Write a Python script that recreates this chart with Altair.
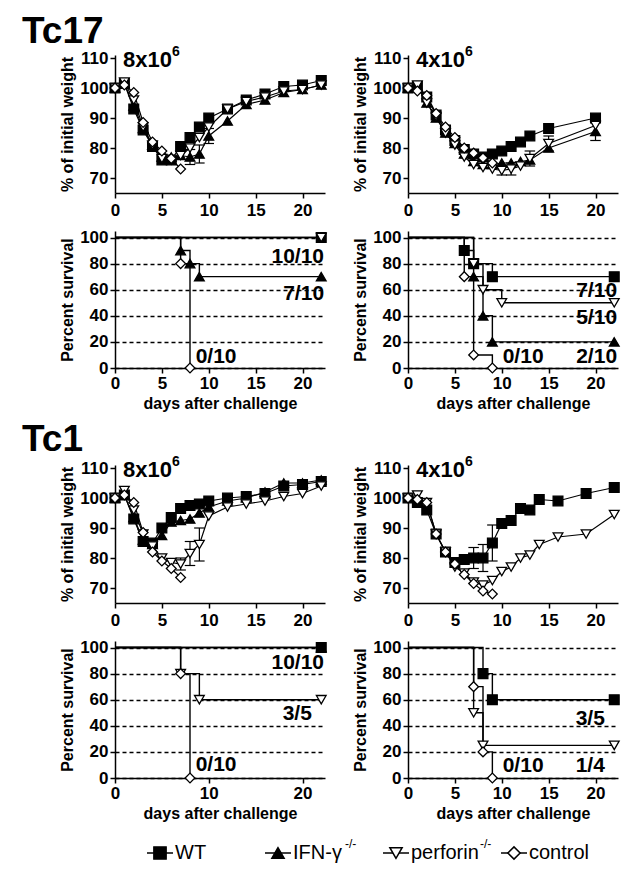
import altair as alt
import pandas as pd

FONT = "Liberation Sans, Arial, sans-serif"
AX_FONT = "Liberation Sans Narrow, Liberation Sans, Arial, sans-serif"

GROUPS = ["WT", "IFN", "perforin", "control"]
SHAPES = ["square", "triangle-up", "triangle-down", "diamond"]
FILLS = ["black", "black", "white", "white"]
LEGEND_LABELS = ["WT", "IFN-γ", "perforin", "control"]
LEGEND_SUPS = ["", "-/-", "-/-", ""]

# ---------------- Tc17, 8x10^6 : weight ----------------
A_days = [0, 1, 2, 3, 4, 5, 6, 7, 8, 9, 10, 12, 14, 16, 18, 20, 22]
A_wt = [100, 101.5, 93, 86, 80.5, 76, 76, 80.5, 83.5, 87, 90, 93, 96, 98, 100.5, 101, 102.5]
A_ifn = [100, 101.5, 94, 86.5, 81, 77, 77, 77.5, 77, 78, 84, 89, 94.5, 96, 98.5, 99.5, 101]
A_perf = [100, 102, 96, 87, 81, 76.5, 76, 77.5, 80, 83.5, 87, 93, 95.5, 97, 99, 99.5, 101]
A_ctrl_days = [0, 1, 2, 3, 4, 5, 6, 7]
A_ctrl = [100, 101, 98.5, 88.5, 82, 79, 76.5, 73]
A_err_group = ["IFN", "IFN", "IFN"]
A_err_day = [8, 9, 10]
A_err_sem = [2.5, 3, 2.5]

# ---------------- Tc17, 4x10^6 : weight ----------------
B_days = [0, 1, 2, 3, 4, 5, 6, 7, 8, 9, 10, 11, 12, 13, 15, 20]
B_wt = [100, 100.5, 97, 91, 86, 82.5, 79.5, 78, 77, 78, 79, 80.5, 82, 84, 86.5, 90]
B_ifn = [100, 100.5, 95, 90, 85, 81.5, 78, 75.5, 74.5, 74.5, 75, 75, 75.5, 76, 80, 85.5]
B_perf = [100, 101, 95, 90.5, 85, 81, 77, 74.5, 73.5, 73, 72.5, 73, 74, 76.5, 81.5, 87.5]
B_ctrl_days = [0, 1, 2, 3, 4, 5, 6, 7, 8, 9]
B_ctrl = [100, 99, 97.5, 91.5, 87, 83.5, 80, 78.3, 76.7, 75]
B_err_group = ["perforin", "perforin", "perforin", "perforin", "IFN"]
B_err_day = [10, 11, 13, 15, 20]
B_err_sem = [1.5, 2, 2.5, 2.5, 3]

# ---------------- Tc1, 8x10^6 : weight ----------------
C_days = [0, 1, 2, 3, 4, 5, 6, 7, 8, 9, 10, 12, 14, 16, 18, 20, 22]
C_wt = [100, 101, 93, 85.5, 85, 90, 93.5, 96.5, 97.5, 98, 99, 100, 100.5, 101.5, 104, 104.5, 105.5]
C_ifn = [100, 101, 93.5, 86, 84.5, 87.5, 92, 92.5, 93, 95, 97, 99, 100, 102, 105, 105, 106]
C_perf = [100, 102.5, 96, 88, 84, 80, 78.5, 78, 81.5, 84.5, 94, 97, 98, 99, 100.5, 101.5, 104]
C_ctrl_days = [0, 1, 2, 3, 4, 5, 6, 7]
C_ctrl = [100, 101, 98.5, 88.5, 82, 79, 76.5, 73.5]
C_err_group = ["perforin", "perforin", "perforin"]
C_err_day = [7, 8, 9]
C_err_sem = [2, 4, 5.5]

# ---------------- Tc1, 4x10^6 : weight ----------------
D_days = [0, 1, 2, 3, 4, 5, 6, 7, 8, 9, 10, 11, 12, 13, 14, 16, 19, 22]
D_wt = [100, 98.5, 96, 88, 82, 78.5, 79.5, 80, 80, 85, 91.5, 92.5, 96.5, 96, 99.5, 99, 101.5, 103.5]
D_perf = [100, 101, 98.5, 88, 82, 77, 75, 72, 71, 72.5, 75.5, 77, 80, 81, 84.5, 87, 88, 94.5]
D_ctrl_days = [0, 1, 2, 3, 4, 5, 6, 7, 8, 9]
D_ctrl = [100, 99.5, 98.5, 88, 82, 78, 74.5, 71.5, 69, 68]
D_err_group = ["WT", "WT", "WT"]
D_err_day = [7, 8, 9]
D_err_sem = [3.5, 4.5, 6]

# ---------------- survival (Kaplan-Meier steps) ----------------
SA = {"WT": ([0, 22], [100, 100]),
      "IFN": ([0, 7, 8, 9, 22], [100, 90, 80, 70, 70]),
      "perforin": ([0, 22], [100, 100]),
      "control": ([0, 7, 8], [100, 80, 0])}
SA_txt = ["10/10", "7/10", "0/10"]
SA_day = [22.3, 22.3, 8.6]
SA_pct = [85, 57, 8.5]
SA_align = ["right", "right", "left"]

SB = {"WT": ([0, 6, 7, 9, 22], [100, 90, 80, 70, 70]),
      "IFN": ([0, 7, 8, 9, 22], [100, 70, 40, 20, 20]),
      "perforin": ([0, 7, 8, 10, 22], [100, 80, 60, 50, 50]),
      "control": ([0, 6, 7, 9], [100, 70, 10, 0])}
SB_txt = ["7/10", "5/10", "2/10", "0/10"]
SB_day = [22.3, 22.3, 22.3, 10.1]
SB_pct = [59, 38.5, 8.5, 8.5]
SB_align = ["right", "right", "right", "left"]

SC = {"WT": ([0, 22], [100, 100]),
      "IFN": ([0, 22], [100, 100]),
      "perforin": ([0, 7, 9, 22], [100, 80, 60, 60]),
      "control": ([0, 7, 8], [100, 80, 0])}
SC_txt = ["10/10", "3/5", "0/10"]
SC_day = [22.3, 21.0, 8.6]
SC_pct = [88, 49, 10]
SC_align = ["right", "right", "left"]

SD = {"WT": ([0, 8, 9, 22], [100, 80, 60, 60]),
      "perforin": ([0, 7, 8, 22], [100, 50, 25, 25]),
      "control": ([0, 7, 8, 9], [100, 70, 20, 0])}
SD_txt = ["3/5", "1/4", "0/10"]
SD_day = [21.0, 21.0, 10.1]
SD_pct = [45, 9, 9]
SD_align = ["right", "right", "left"]

W = 210
H_W = 138
H_S = 137
X_DOMAIN = [0, 22.4]

shape_enc = alt.Shape("group:N", scale=alt.Scale(domain=GROUPS, range=SHAPES), legend=None)
fill_enc = alt.Fill("group:N", scale=alt.Scale(domain=GROUPS, range=FILLS), legend=None)


def long_df(series, vname):
    rows = []
    for g in GROUPS:
        if g in series:
            days, vals = series[g]
            for d, v in zip(days, vals):
                rows.append({"group": g, "day": d, vname: v})
    return pd.DataFrame(rows)


def xenc(field, ticks, title=None, pad=2):
    return alt.X(f"{field}:Q", title=title,
                 scale=alt.Scale(domain=X_DOMAIN, nice=False, zero=False),
                 axis=alt.Axis(values=ticks, grid=False, labelPadding=pad))


def text_layer(txt, x, y, size, weight="bold", align="left"):
    return alt.Chart(pd.DataFrame({"t": [txt]})).mark_text(
        align=align, baseline="alphabetic", font=FONT, fontSize=size,
        fontWeight=weight, color="black").encode(x=alt.value(x), y=alt.value(y), text="t:N")


def dose_title(base, sup):
    return [text_layer(base, 8, 12, 22), text_layer(sup, 57, 1, 14)]


def weight_panel(series, err, base, sup, big=None, big_y=-12):
    df = long_df(series, "value")
    title = "% of initial weight"

    def yenc(field):
        return alt.Y(f"{field}:Q", title=title,
                     scale=alt.Scale(domain=[65, 111], nice=False, zero=False),
                     axis=alt.Axis(values=[70, 80, 90, 100, 110], grid=False))

    ticks = [0, 5, 10, 15, 20]
    xw = lambda f: xenc(f, ticks, None, 4)
    line = alt.Chart(df).mark_line(color="black", strokeWidth=1.2).encode(
        x=xw("day"), y=yenc("value"), detail="group:N")
    edf = pd.DataFrame({"group": err[0], "day": err[1], "sem": err[2]})
    edf = edf.merge(df, on=["group", "day"], how="left")
    edf["lo"] = edf["value"] - edf["sem"]
    edf["hi"] = edf["value"] + edf["sem"]
    rule = alt.Chart(edf).mark_rule(color="black", strokeWidth=1.2).encode(
        x=xw("day"), y=yenc("lo"), y2="hi:Q")
    caps = alt.Chart(edf).transform_fold(["lo", "hi"], as_=["k", "v"]).mark_point(
        shape="M-1,0H1", size=110, color="black", strokeWidth=1.2, filled=False, opacity=1).encode(
        x=xw("day"), y=yenc("v"))
    pts = alt.Chart(df).mark_point(filled=True, size=95, stroke="black", strokeWidth=1.3,
                                   opacity=1).encode(
        x=xw("day"), y=yenc("value"), shape=shape_enc, fill=fill_enc)
    layers = [line, rule, caps, pts] + dose_title(base, sup)
    if big:
        layers.append(text_layer(big, -93, big_y, 37))
    return alt.layer(*layers).properties(width=W, height=H_W)


def survival_panel(series, txt, tday, tpct, talign, ticks):
    df = long_df(series, "pct")
    title = "Percent survival"

    def yenc(field):
        return alt.Y(f"{field}:Q", title=title,
                     scale=alt.Scale(domain=[0, 105], nice=False, zero=False),
                     axis=alt.Axis(values=[0, 20, 40, 60, 80, 100], grid=True,
                                   gridDash=[4, 3], gridColor="black", gridWidth=1.3))

    xt = "days after challenge"
    steps = alt.Chart(df).mark_line(color="black", strokeWidth=1.4, interpolate="step-after").encode(
        x=xenc("day", ticks, xt), y=yenc("pct"), detail="group:N")
    pts = alt.Chart(df).transform_filter("datum.day > 0").mark_point(
        filled=True, size=95, stroke="black", strokeWidth=1.3, opacity=1).encode(
        x=xenc("day", ticks, xt), y=yenc("pct"), shape=shape_enc, fill=fill_enc)
    adf = pd.DataFrame({"t": txt, "day": tday, "pct": tpct, "align": talign})
    layers = [steps, pts]
    for al in ["right", "left"]:
        layers.append(alt.Chart(adf).transform_filter(f"datum.align == '{al}'").mark_text(
            align=al, baseline="middle", font=FONT, fontSize=21, fontWeight="bold",
            color="black").encode(x=xenc("day", ticks, xt), y=yenc("pct"), text="t:N"))
    return alt.layer(*layers).properties(width=W, height=H_S)


w1 = weight_panel({"WT": (A_days, A_wt), "IFN": (A_days, A_ifn), "perforin": (A_days, A_perf),
                   "control": (A_ctrl_days, A_ctrl)},
                  (A_err_group, A_err_day, A_err_sem), "8x10", "6", big="Tc17", big_y=-12)
w2 = weight_panel({"WT": (B_days, B_wt), "IFN": (B_days, B_ifn), "perforin": (B_days, B_perf),
                   "control": (B_ctrl_days, B_ctrl)},
                  (B_err_group, B_err_day, B_err_sem), "4x10", "6")
w3 = weight_panel({"WT": (C_days, C_wt), "IFN": (C_days, C_ifn), "perforin": (C_days, C_perf),
                   "control": (C_ctrl_days, C_ctrl)},
                  (C_err_group, C_err_day, C_err_sem), "8x10", "6", big="Tc1", big_y=-14)
w4 = weight_panel({"WT": (D_days, D_wt), "perforin": (D_days, D_perf),
                   "control": (D_ctrl_days, D_ctrl)},
                  (D_err_group, D_err_day, D_err_sem), "4x10", "6")

s1 = survival_panel(SA, SA_txt, SA_day, SA_pct, SA_align, [0, 5, 10, 15, 20])
s2 = survival_panel(SB, SB_txt, SB_day, SB_pct, SB_align, [0, 5, 10, 15, 20])
s3 = survival_panel(SC, SC_txt, SC_day, SC_pct, SC_align, [0, 10, 20])
s4 = survival_panel(SD, SD_txt, SD_day, SD_pct, SD_align, [0, 5, 10, 15, 20])

grid = alt.concat(w1, w2, s1, s2, w3, w4, s3, s4, columns=2, align="each",
                  spacing={"row": 10, "column": 23})

# ---------------- legend ----------------
ldf = pd.DataFrame({"group": GROUPS, "label": LEGEND_LABELS, "sup": LEGEND_SUPS})
lx = alt.X("group:N", sort=GROUPS, axis=None,
           scale=alt.Scale(domain=GROUPS, range=[45, 399], padding=0))
lbase = alt.Chart(ldf).encode(x=lx, y=alt.value(15))
l_line = lbase.mark_point(shape="M-1,0H1", size=676, color="black", strokeWidth=1.5,
                          filled=False, opacity=1)
l_pts = lbase.mark_point(filled=True, size=150, stroke="black", strokeWidth=1.5,
                         opacity=1).encode(shape=shape_enc, fill=fill_enc)
l_txt = lbase.mark_text(align="left", baseline="middle", dx=15, font=FONT, fontSize=20,
                        color="black").encode(text="label:N")
l_sup1 = lbase.transform_filter("datum.group == 'IFN'").mark_text(
    align="left", baseline="middle", dx=67, dy=-9, font=FONT, fontSize=12,
    color="black").encode(text="sup:N")
l_sup2 = lbase.transform_filter("datum.group == 'perforin'").mark_text(
    align="left", baseline="middle", dx=84, dy=-9, font=FONT, fontSize=12,
    color="black").encode(text="sup:N")
legend = alt.layer(l_line, l_pts, l_txt, l_sup1, l_sup2).properties(width=480, height=30)

chart = alt.vconcat(grid, legend, spacing=17).properties(
    padding={"left": 14, "top": 5, "right": 5, "bottom": 5}
).configure_view(stroke=None).configure_axis(
    labelFont=AX_FONT, labelFontSize=17, labelFontWeight="bold", labelColor="black",
    titleFont=AX_FONT, titleFontSize=16, titleFontWeight="bold", titleColor="black",
    domainColor="black", domainWidth=1.5, tickColor="black", tickWidth=1.5, tickSize=5,
    labelPadding=2, titlePadding=4, labelFlush=False, labelOverlap=False
)

chart.save("out.html", embed_options={"renderer": "svg", "actions": False})
